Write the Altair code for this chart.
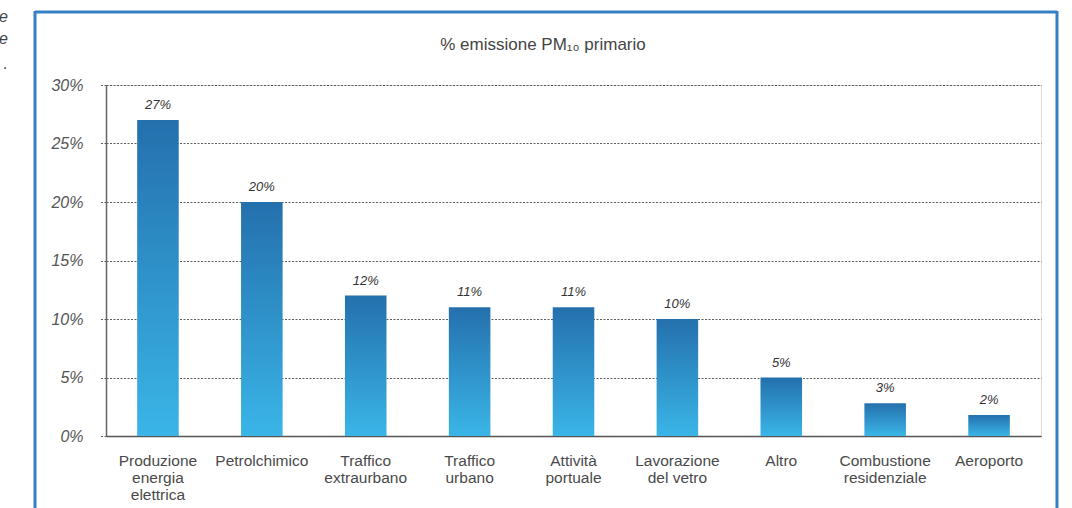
import altair as alt
import pandas as pd

categories = [
    "Produzione\nenergia\nelettrica",
    "Petrolchimico",
    "Traffico\nextraurbano",
    "Traffico\nurbano",
    "Attività\nportuale",
    "Lavorazione\ndel vetro",
    "Altro",
    "Combustione\nresidenziale",
    "Aeroporto",
]
values = [27, 20, 12, 11, 11, 10, 5, 2.8, 1.8]
value_labels = ["27%", "20%", "12%", "11%", "11%", "10%", "5%", "3%", "2%"]
y_ticks = [0, 5, 10, 15, 20, 25, 30]
title_text = "% emissione PM\u2081\u2080 primario"
margin_text = ["e", "e", "."]
margin_y = [-63, -41, -16]

df = pd.DataFrame({"cat": categories, "val": values, "lab": value_labels})

W, H = 935, 351
FONT = "Liberation Sans"

grad = alt.Gradient(
    gradient="linear",
    stops=[alt.GradientStop(color="#2470ad", offset=0),
           alt.GradientStop(color="#3ab5e7", offset=1)],
    x1=0, x2=0, y1=0, y2=1,
)

x_enc = alt.X("cat:N", sort=categories, title=None,
              scale=alt.Scale(paddingInner=0.6, paddingOuter=0.3),
              axis=alt.Axis(labelAngle=0, labelExpr="split(datum.label, '\\n')",
                            labelFont=FONT, labelFontSize=15.5, labelColor="#4a4a4a",
                            labelLineHeight=17, labelPadding=17, ticks=False,
                            domainColor="#555555", domainWidth=1.5, labelBaseline="top"))
y_enc = alt.Y("val:Q", title=None,
              scale=alt.Scale(domain=[0, 30], nice=False),
              axis=alt.Axis(values=y_ticks, labelExpr="datum.value + '%'",
                            labelFont=FONT, labelFontSize=16, labelFontStyle="italic",
                            labelColor="#555555", labelPadding=16,
                            grid=True, gridColor="#333333", gridDash=[2, 1.5], gridWidth=0.8,
                            tickSize=7, tickColor="#333333", tickDash=[2, 1.5], tickWidth=0.8,
                            domainColor="#666666", domainWidth=1.5))

bars = alt.Chart(df).mark_bar(color=grad).encode(x=x_enc, y=y_enc)

labels = alt.Chart(df).mark_text(
    font=FONT, fontSize=13, fontStyle="italic", color="#333333",
    baseline="alphabetic", dy=-11,
).encode(x=alt.X("cat:N", sort=categories), y=alt.Y("val:Q"), text="lab:N")

title = alt.Chart(pd.DataFrame({"t": [title_text]})).mark_text(
    font=FONT, fontSize=17, color="#444444", align="center", baseline="middle",
).encode(x=alt.value(437), y=alt.value(-40), text="t:N")

margin_layers = []
for t, yy in zip(margin_text, margin_y):
    margin_layers.append(
        alt.Chart(pd.DataFrame({"t": [t]})).mark_text(
            font=FONT, fontSize=16, fontStyle="italic", color="#444444", align="right",
            baseline="alphabetic",
        ).encode(x=alt.value(-98), y=alt.value(yy), text="t:N")
    )

FC = "#3580c2"
frame_top = alt.Chart(pd.DataFrame({"a": [0]})).mark_rule(color=FC, strokeWidth=3).encode(
    x=alt.value(-71), x2=alt.value(951), y=alt.value(-73))
frame_left = alt.Chart(pd.DataFrame({"a": [0]})).mark_rule(color=FC, strokeWidth=3).encode(
    x=alt.value(-71), y=alt.value(-74), y2=alt.value(440))
frame_right = alt.Chart(pd.DataFrame({"a": [0]})).mark_rule(color=FC, strokeWidth=3).encode(
    x=alt.value(951), y=alt.value(-74), y2=alt.value(440))

chart = alt.layer(bars, labels, title, *margin_layers, frame_top, frame_left, frame_right).properties(
    width=W, height=H,
    autosize=alt.AutoSizeParams(type="none"),
    padding={"left": 106, "top": 85, "right": 31, "bottom": 72},
).configure_view(stroke=None).configure(background="white")

chart.save("out.html", embed_options={"renderer": "svg", "actions": False})
